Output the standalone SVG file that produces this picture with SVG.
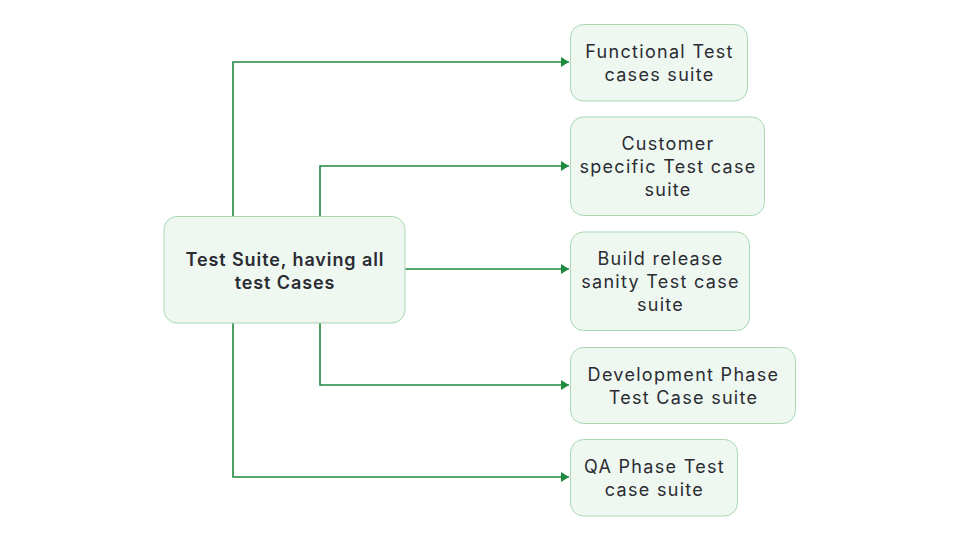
<svg xmlns="http://www.w3.org/2000/svg" width="960" height="541" viewBox="0 0 960 541">
<defs>
<style>
.box{fill:#eef8f0;stroke:#a9d8b3;stroke-width:1}
.t{font-family:Inter,"Noto Sans","Liberation Sans",sans-serif;font-size:18px;fill:#2b2c33;text-anchor:middle;letter-spacing:1.3px}
.b{font-weight:600;letter-spacing:0.9px}
.c{fill:none;stroke:#1e8a3e;stroke-width:1.6}
</style>
<marker id="ah" viewBox="0 0 8 10" refX="8" refY="5" markerWidth="8" markerHeight="10" markerUnits="userSpaceOnUse" orient="auto">
<path d="M0,0 L8,5 L0,10 Z" fill="#1e8a3e"/>
</marker>
</defs>
<rect width="960" height="541" fill="#ffffff"/>
<g id="connectors">
<path class="c" d="M233,216 V62 H569" marker-end="url(#ah)"/>
<path class="c" d="M320,216 V166 H569" marker-end="url(#ah)"/>
<path class="c" d="M405,269 H569" marker-end="url(#ah)"/>
<path class="c" d="M320,323 V385 H569" marker-end="url(#ah)"/>
<path class="c" d="M233,323 V477 H569" marker-end="url(#ah)"/>
</g>
<g id="root">
<rect class="box" x="164" y="216.5" width="241" height="106.5" rx="13"/>
<text class="t b" x="285" y="265.5">Test Suite, having all</text>
<text class="t b" x="285" y="288.5">test Cases</text>
</g>
<g id="n1">
<rect class="box" x="570.5" y="24.5" width="177" height="76.5" rx="13"/>
<text class="t" x="659.5" y="57.5">Functional Test</text>
<text class="t" x="659.5" y="80.5">cases suite</text>
</g>
<g id="n2">
<rect class="box" x="570.5" y="117" width="194" height="98.5" rx="13"/>
<text class="t" x="668" y="149.5">Customer</text>
<text class="t" x="668" y="172.5">specific Test case</text>
<text class="t" x="668" y="195.5">suite</text>
</g>
<g id="n3">
<rect class="box" x="570.5" y="232" width="179" height="98.5" rx="13"/>
<text class="t" x="660.5" y="264.5">Build release</text>
<text class="t" x="660.5" y="287.5">sanity Test case</text>
<text class="t" x="660.5" y="310.5">suite</text>
</g>
<g id="n4">
<rect class="box" x="570.5" y="347.5" width="225" height="76" rx="13"/>
<text class="t" x="683.5" y="380.5">Development Phase</text>
<text class="t" x="683.5" y="403.5">Test Case suite</text>
</g>
<g id="n5">
<rect class="box" x="570.5" y="439.5" width="167" height="76.5" rx="13"/>
<text class="t" x="654.5" y="472.5">QA Phase Test</text>
<text class="t" x="654.5" y="495.5">case suite</text>
</g>
</svg>
